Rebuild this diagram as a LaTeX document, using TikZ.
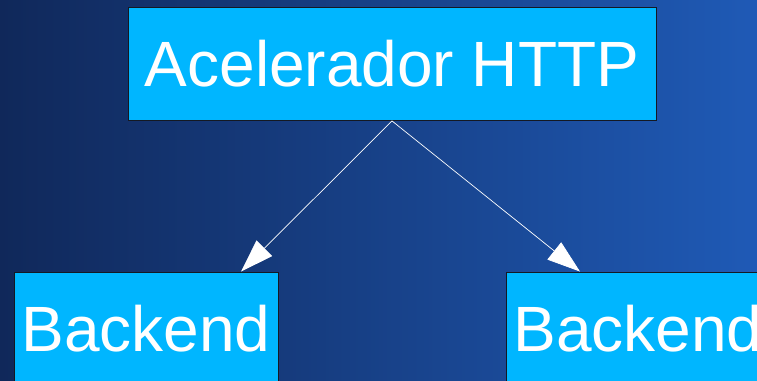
\documentclass[tikz,border=0pt]{standalone}
\usepackage{fontspec}
\setmainfont{Liberation Sans}
\usepackage{tikz}
\usetikzlibrary{arrows.meta,calc}

\definecolor{bgLeft}{RGB}{16,40,90}
\definecolor{bgRight}{RGB}{31,90,182}
\definecolor{boxFill}{RGB}{0,182,255}
\definecolor{boxLine}{RGB}{20,25,35}

\begin{document}
\begin{tikzpicture}
    [
        x = 1pt, y = 1pt,
        server/.style  = {draw=boxLine, line width=0.9pt, fill=boxFill, text=white,
                          inner sep=0pt, minimum height=113pt,
                          font=\fontsize{64}{70}\selectfont},
        link/.style    = {draw=white, line width=0.7pt,
                          -{Triangle[length=33pt,width=22pt,fill=white]}}
    ]
    \useasboundingbox (0,0) rectangle (757,380);
    \clip (0,0) rectangle (757,380);
    \shade [left color=bgLeft, right color=bgRight] (0,0) rectangle (757,380);

    \node [server, minimum width=528pt] at (392,316) (accel) {Acelerador HTTP};
    \node [server, minimum width=264pt] at (146,51.5) (backendA) {Backend};
    \node [server, minimum width=264pt] at (638,51.5) (backendB) {Backend};

    \draw [link] (accel.south) -- ($(backendA.north)+(95,0)$);
    \draw [link] (accel.south) -- ($(backendB.north)+(-58,0)$);
\end{tikzpicture}
\end{document}
